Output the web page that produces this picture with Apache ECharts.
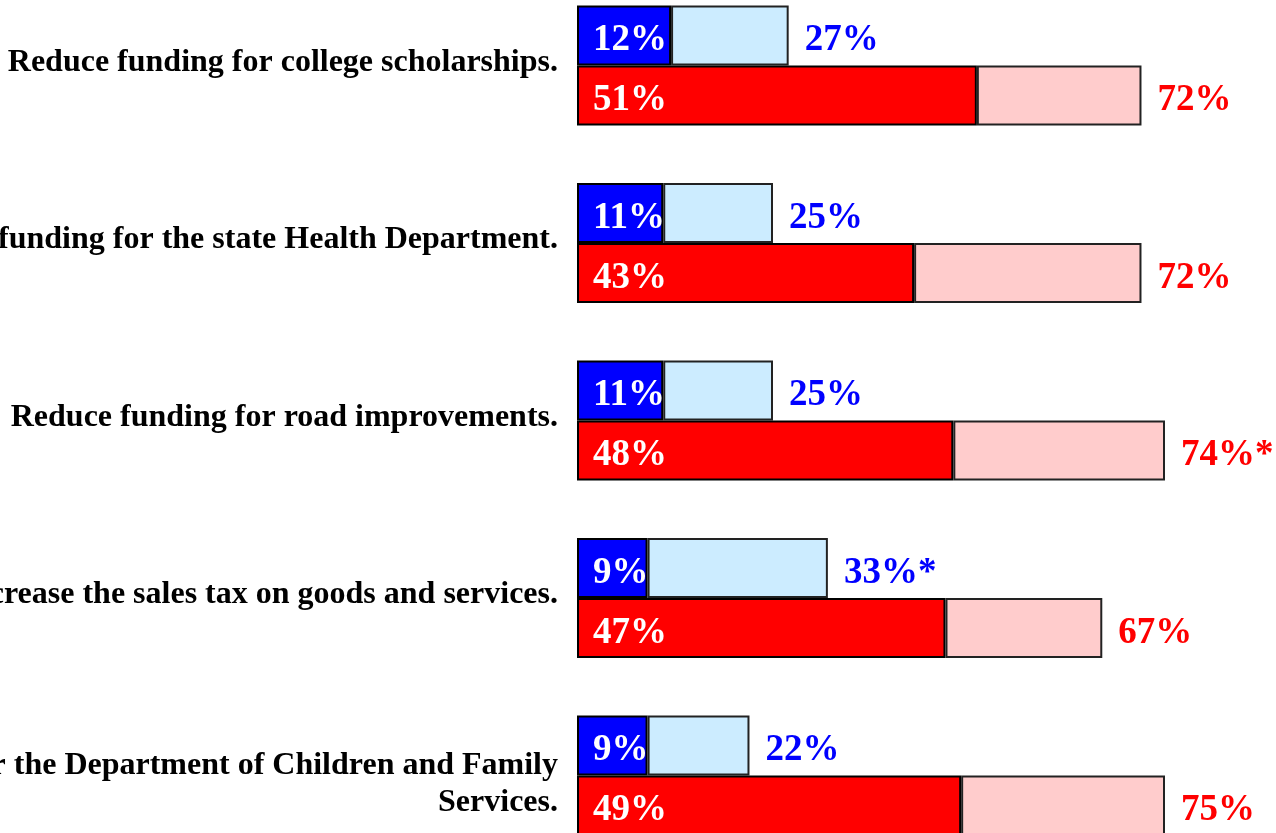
<!DOCTYPE html>
<html>
<head>
<meta charset="utf-8">
<script src="https://cdn.jsdelivr.net/npm/echarts@6/dist/echarts.min.js"></script>
<style>
  html, body { margin: 0; padding: 0; background: #fff; }
  #chart { width: 1276px; height: 833px; }
</style>
</head>
<body>
<div id="chart"></div>
<script>
const categories = [
    'Reduce funding for college scholarships.',
    'Reduce funding for the state Health Department.',
    'Reduce funding for road improvements.',
    'Increase the sales tax on goods and services.',
    'Reduce funding for the Department of Children and Family\nServices.'
];
// strongly / total
const blueStrong = [12, 11, 11, 9, 9];
const blueTotal = [27, 25, 25, 32, 22];
const redStrong = [51, 43, 48, 47, 49];
const redTotal = [72, 72, 75, 67, 75];
// printed labels (some carry an asterisk)
const blueStrongLabels = ['12%', '11%', '11%', '9%', '9%'];
const blueTotalLabels = ['27%', '25%', '25%', '33%*', '22%'];
const redStrongLabels = ['51%', '43%', '48%', '47%', '49%'];
const redTotalLabels = ['72%', '72%', '74%*', '67%', '75%'];

const blueRest = blueTotal.map((v, i) => v - blueStrong[i]);
const redRest = redTotal.map((v, i) => v - redStrong[i]);

const font = '"Liberation Serif", "Times New Roman", serif';
const valueLabel = {
    show: true,
    fontFamily: font,
    fontWeight: 'bold',
    fontSize: 37,
    distance: 16,
    offset: [0, 5]
};
const catText = { fontFamily: font, fontWeight: 'bold', fontSize: 32, lineHeight: 37, color: '#000' };

const chart = echarts.init(document.getElementById('chart'), null, { renderer: 'canvas' });

chart.setOption({
    animation: false,
    backgroundColor: '#fff',
    grid: {
        left: 577, right: 71.8, top: -23.25, height: 887.5,
        containLabel: false,
        outerBoundsMode: 'none'
    },
    xAxis: {
        type: 'value',
        min: 0,
        max: 80,
        show: false
    },
    yAxis: {
        type: 'category',
        inverse: true,
        data: categories,
        axisLine: { show: false },
        axisTick: { show: false },
        axisLabel: {
            margin: 19,
            align: 'right',
            fontFamily: font,
            fontWeight: 'bold',
            fontSize: 32,
            lineHeight: 37,
            color: '#000',
            formatter: function (v) {
                const lines = v.split('\n');
                if (lines.length === 1) return '{a|' + v + '}';
                return lines.map(s => '{c|' + s + '}').join('\n');
            },
            rich: {
                a: Object.assign({}, catText, { padding: [0, 0, 6, 0] }),
                c: Object.assign({}, catText, { padding: [18, 0, 0, 0] })
            }
        }
    },
    series: [
        {
            type: 'bar',
            stack: 'blue',
            barWidth: 60,
            barGap: '0%',
            data: blueStrong,
            itemStyle: { color: '#0000FF', borderColor: '#000', borderWidth: 2 },
            label: Object.assign({}, valueLabel, {
                position: 'insideLeft',
                color: '#fff',
                formatter: p => blueStrongLabels[p.dataIndex]
            })
        },
        {
            type: 'bar',
            stack: 'blue',
            barWidth: 60,
            data: blueRest,
            itemStyle: { color: '#CCECFF', borderColor: '#222', borderWidth: 2 },
            label: Object.assign({}, valueLabel, {
                position: 'right',
                color: '#0000FF',
                formatter: p => blueTotalLabels[p.dataIndex]
            })
        },
        {
            type: 'bar',
            stack: 'red',
            barWidth: 60,
            barGap: '0%',
            data: redStrong,
            itemStyle: { color: '#FF0000', borderColor: '#000', borderWidth: 2 },
            label: Object.assign({}, valueLabel, {
                position: 'insideLeft',
                color: '#fff',
                formatter: p => redStrongLabels[p.dataIndex]
            })
        },
        {
            type: 'bar',
            stack: 'red',
            barWidth: 60,
            data: redRest,
            itemStyle: { color: '#FFCCCC', borderColor: '#222', borderWidth: 2 },
            label: Object.assign({}, valueLabel, {
                position: 'right',
                color: '#FF0000',
                formatter: p => redTotalLabels[p.dataIndex]
            })
        }
    ]
});
</script>
</body>
</html>
